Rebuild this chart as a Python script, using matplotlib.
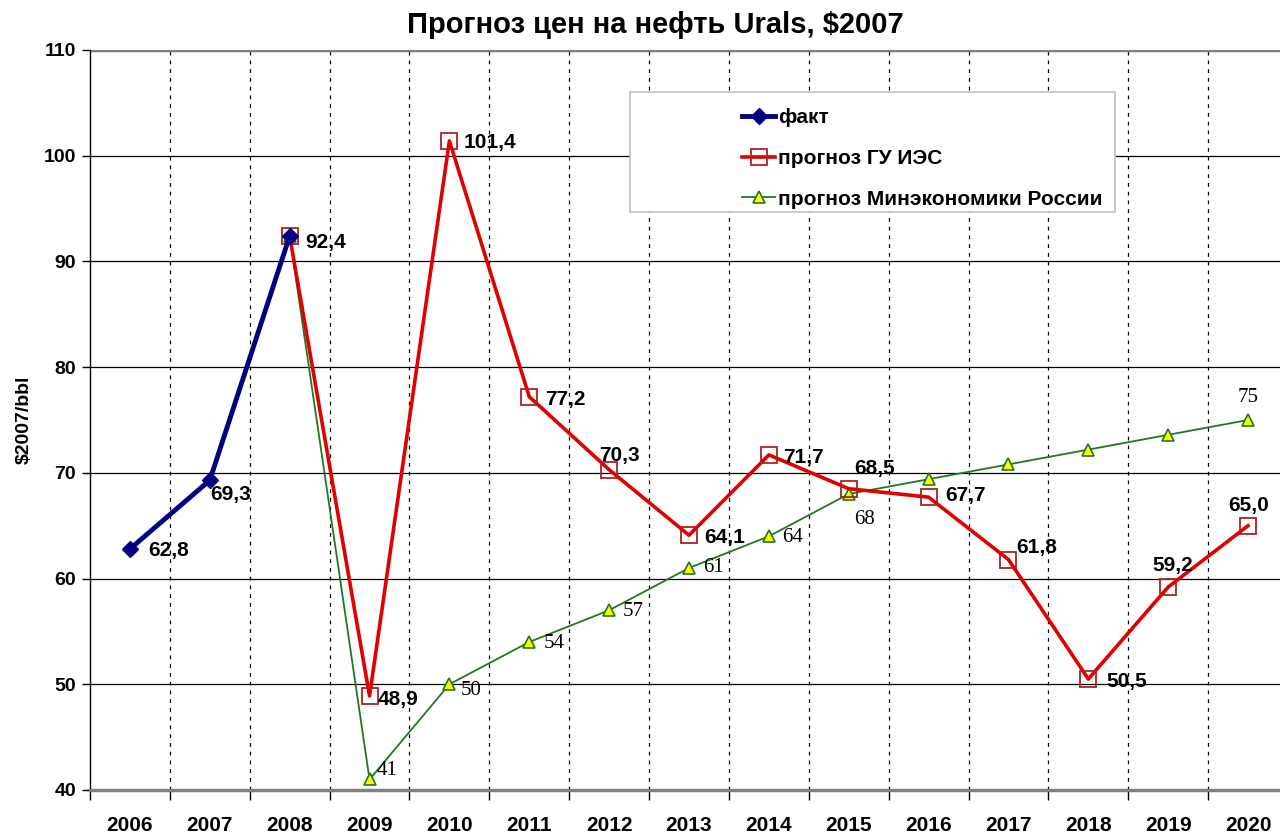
import matplotlib
matplotlib.use("Agg")
import matplotlib.pyplot as plt
from matplotlib.patches import Rectangle

years = ["2006", "2007", "2008", "2009", "2010", "2011", "2012", "2013",
         "2014", "2015", "2016", "2017", "2018", "2019", "2020"]
fact = [62.8, 69.3, 92.4]
ies = [92.4, 48.9, 101.4, 77.2, 70.3, 64.1, 71.7, 68.5, 67.7, 61.8, 50.5, 59.2, 65.0]
mert = [92.4, 41, 50, 54, 57, 61, 64, 68, 69.4, 70.8, 72.2, 73.6, 75]
fact_labels = ["62,8", "69,3", "92,4"]
ies_labels = ["", "48,9", "101,4", "77,2", "70,3", "64,1", "71,7", "68,5", "67,7",
              "61,8", "50,5", "59,2", "65,0"]
mert_labels = ["", "41", "50", "54", "57", "61", "64", "68", "", "", "", "", "75"]

NARROW = ["Liberation Sans Narrow", "Liberation Sans", "DejaVu Sans"]
SERIF = ["Liberation Serif", "DejaVu Serif"]
plt.rcParams["font.family"] = NARROW

fig = plt.figure(figsize=(12.8, 8.39), dpi=100)
ax = fig.add_axes([90 / 1280, 49 / 839, 1198 / 1280, 740 / 839])

x_fact = list(range(0, 3))
x_fc = list(range(2, 15))

ax.plot(x_fc, mert, color="#1f7a1f", lw=1.3, marker="^", ms=8,
        mfc="#ffff00", mec="#1f7a1f", mew=1.2, zorder=3,
        label="прогноз Минэкономики России")
ax.plot(x_fc, ies, color="#e00000", lw=2.6, marker="s", ms=11,
        mfc="none", mec="#b02020", mew=1.3, zorder=4, label="прогноз ГУ ИЭС")
ax.plot(x_fact, fact, color="#000080", lw=3.5, marker="D", ms=8,
        mfc="#000080", mec="#000080", zorder=5, label="факт")

ax.set_xlim(-0.5, 14.5)
ax.set_ylim(40, 110)
ax.set_yticks(range(40, 111, 10))
ax.set_xticks(range(15))
ax.set_xticklabels(years, fontsize=15, fontweight="bold")
ax.set_xticks([i - 0.5 for i in range(16)], minor=True)
ax.tick_params(axis="x", which="major", length=0, pad=19)
ax.tick_params(axis="x", which="minor", length=7, width=1, color="black")
ax.tick_params(axis="y", length=6, width=1, labelsize=14, pad=4)
for t in ax.get_yticklabels():
    t.set_fontweight("bold")

ax.yaxis.grid(True, color="black", lw=0.9)
for xv in range(14):
    ax.axvline(xv + 0.5, color="black", lw=0.9, ls=(0, (3, 4)), zorder=1)
ax.axhline(110, color="#808080", lw=2.5, zorder=2)

ax.spines["top"].set_visible(False)
ax.spines["right"].set_visible(False)
ax.spines["bottom"].set_color("#808080")
ax.spines["bottom"].set_linewidth(2.5)
ax.spines["left"].set_linewidth(1)

ax.set_ylabel("$2007/bbl", fontsize=14, fontweight="bold", labelpad=8)

def px(dx, dy):
    return (dx * 0.72, -dy * 0.72)

fact_off = [(18, 2), (0, 14), (16, 6)]
for i, (v, s) in enumerate(zip(fact, fact_labels)):
    ax.annotate(s, (x_fact[i], v), xytext=px(*fact_off[i]), textcoords="offset points",
                fontsize=15, fontweight="bold", ha="left", va="center", zorder=6)

ies_off = [(0, 0), (8, 4), (14, 2), (16, 3), (-10, -14), (15, 2), (14, 3), (6, -20),
           (17, -2), (8, -12), (18, 2), (-16, -22), (-20, -20)]
for i, (v, s) in enumerate(zip(ies, ies_labels)):
    if s:
        ax.annotate(s, (x_fc[i], v), xytext=px(*ies_off[i]), textcoords="offset points",
                    fontsize=15, fontweight="bold", ha="left", va="center", zorder=6)

mert_off = [(0, 0), (7, -9), (11, 6), (14, 2), (14, 1), (14, -1), (13, 1), (5, 26),
            (0, 0), (0, 0), (0, 0), (0, 0), (-10, -22)]
for i, (v, s) in enumerate(zip(mert, mert_labels)):
    if s:
        ax.annotate(s, (x_fc[i], v), xytext=px(*mert_off[i]), textcoords="offset points",
                    fontsize=15, family=SERIF, ha="left", va="center", zorder=6)

# legend frame
rect = Rectangle((630, 839 - 212), 485, 120, transform=None, facecolor="white",
                 edgecolor="#c0c0c0", lw=1.2, zorder=7)
fig.patches.append(rect)
h, l = ax.get_legend_handles_labels()
leg = fig.legend(h[::-1], l[::-1], loc="upper left",
                 bbox_to_anchor=(742 / 1280, 1 - 108 / 839), frameon=False,
                 prop={"family": NARROW, "weight": "bold", "size": 15},
                 handlelength=1.6, labelspacing=1.05, handletextpad=0.15, borderpad=0,
                 borderaxespad=0)
leg.set_zorder(8)

fig.text(655 / 1280, 1 - 25 / 839, "Прогноз цен на нефть Urals, $2007",
         ha="center", va="center", fontsize=21, fontweight="bold")

fig.savefig("out.png", dpi=100)
